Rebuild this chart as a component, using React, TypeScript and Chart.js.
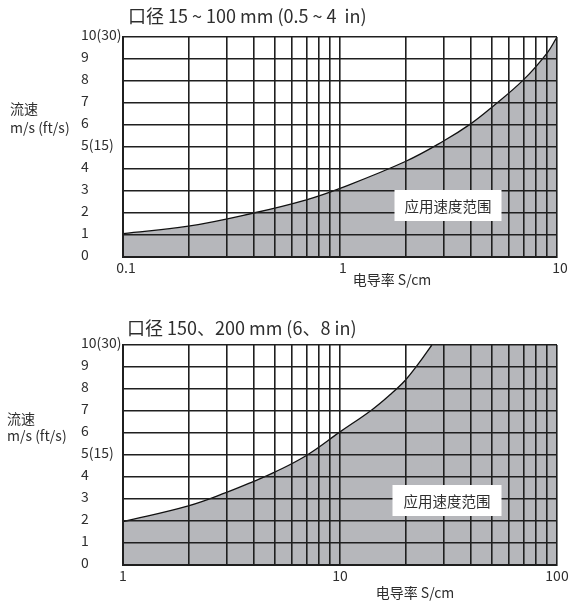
import React, { useEffect, useRef } from "react";
import { Chart, registerables } from "chart.js";

Chart.register(...registerables);

const FONT = '"Noto Sans CJK SC", "Noto Sans", sans-serif';
const TEXT_COLOR = "#2e2e2e";
const GRID_COLOR = "#1f1f1f";
const FILL_COLOR = "#b6b7bb";

// ---- data ----
const topTitle = "口径 15 ~ 100 mm (0.5 ~ 4  in)";
const bottomTitle = "口径 150、200 mm (6、8 in)";
const yAxisTitle = ["流速", "m/s (ft/s)"];
const xAxisTitle = "电导率 S/cm";
const rangeLabel = "应用速度范围";

const yTickLabels = ["0", "1", "2", "3", "4", "5(15)", "6", "7", "8", "9", "10(30)"];

// upper panel: limit curve
const topConductivity = [0.1, 0.2, 0.4, 0.7, 1, 2, 3, 4, 5, 7, 9, 10];
const topVelocity = [1.06, 1.4, 2.0, 2.6, 3.12, 4.34, 5.27, 6.05, 6.8, 8.05, 9.27, 10];
// upper panel: region beyond curve (none)
const topPlateauConductivity: number[] = [];
const topPlateauVelocity: number[] = [];

// lower panel: limit curve
const bottomConductivity = [1, 2, 3, 4, 5, 7, 10, 14, 17, 20, 23, 26.5];
const bottomVelocity = [1.97, 2.69, 3.3, 3.8, 4.22, 4.98, 6.05, 7.05, 7.74, 8.4, 9.15, 10];
// lower panel: region where the limit is the top of the scale
const bottomPlateauConductivity = [26, 100];
const bottomPlateauVelocity = [10, 10];

const topXGrid = [0.1, 0.2, 0.3, 0.4, 0.5, 0.6, 0.7, 0.8, 0.9, 1, 2, 3, 4, 5, 6, 7, 8, 9, 10];
const bottomXGrid = [1, 2, 3, 4, 5, 6, 7, 8, 9, 10, 20, 30, 40, 50, 60, 70, 80, 90, 100];
const topXLabels = [0.1, 1, 10];
const bottomXLabels = [1, 10, 100];

type Decor = {
  title: string;
  titleX: number;
  titleY: number;
  yTitleX: number;
  yTitleY: number[];
  xTitleX: number;
  xTitleY: number;
  boxX: number;
  boxY: number;
  boxW: number;
  boxH: number;
};

function makeDecorPlugin(d: Decor) {
  return {
    id: "decor",
    afterDraw(chart: any) {
      const ctx = chart.ctx as CanvasRenderingContext2D;
      ctx.save();
      ctx.textBaseline = "middle";
      ctx.fillStyle = TEXT_COLOR;
      ctx.textAlign = "left";
      ctx.font = `18px ${FONT}`;
      ctx.fillText(d.title, d.titleX, d.titleY);
      ctx.font = `14px ${FONT}`;
      yAxisTitle.forEach((line, i) => ctx.fillText(line, d.yTitleX, d.yTitleY[i]));
      ctx.textAlign = "center";
      ctx.fillText(xAxisTitle, d.xTitleX, d.xTitleY);
      ctx.fillStyle = "#ffffff";
      ctx.fillRect(d.boxX - d.boxW / 2, d.boxY - d.boxH / 2, d.boxW, d.boxH);
      ctx.fillStyle = TEXT_COLOR;
      ctx.font = `14.5px ${FONT}`;
      ctx.fillText(rangeLabel, d.boxX, d.boxY + 0.5);
      ctx.restore();
    },
  };
}

type PanelProps = {
  xs: number[];
  ys: number[];
  px: number[];
  py: number[];
  grid: number[];
  labels: number[];
  min: number;
  max: number;
  labelOffset: number;
  decor: Decor;
  height: number;
};

function Panel({ xs, ys, px, py, grid, labels, min, max, labelOffset, decor, height }: PanelProps) {
  const ref = useRef<HTMLCanvasElement | null>(null);
  useEffect(() => {
    if (!ref.current) return;
    const datasets: any[] = [
      {
        data: xs.map((x, i) => ({ x, y: ys[i] })),
        borderColor: "#111111",
        borderWidth: 1.3,
        backgroundColor: FILL_COLOR,
        fill: "origin",
        pointRadius: 0,
        tension: 0.4,
      },
    ];
    if (px.length) {
      datasets.push({
        data: px.map((x, i) => ({ x, y: py[i] })),
        borderWidth: 0,
        borderColor: "rgba(0,0,0,0)",
        backgroundColor: FILL_COLOR,
        fill: "origin",
        pointRadius: 0,
      });
    }
    const chart = new Chart(ref.current, {
      type: "line",
      data: { datasets },
      options: {
        responsive: false,
        animation: false,
        layout: { padding: { left: 81, right: 14, top: 37, bottom: height - 257 - 30 } },
        plugins: { legend: { display: false }, tooltip: { enabled: false }, title: { display: false } },
        scales: {
          x: {
            type: "logarithmic",
            min,
            max,
            afterBuildTicks: (scale: any) => {
              scale.ticks = grid.map((v) => ({ value: v }));
            },
            afterFit: (scale: any) => {
              scale.height = 30;
              scale.paddingLeft = 0;
              scale.paddingRight = 0;
            },
            grid: { color: GRID_COLOR, lineWidth: 1.6, drawTicks: false, z: 1 },
            border: { color: GRID_COLOR, width: 2, z: 1 },
            ticks: {
              autoSkip: false,
              maxRotation: 0,
              padding: 2,
              labelOffset,
              color: TEXT_COLOR,
              font: { family: FONT, size: 14 },
              callback: (value: any) => (labels.includes(Number(value)) ? String(value) : ""),
            },
          },
          y: {
            type: "linear",
            min: 0,
            max: 10,
            afterFit: (scale: any) => {
              scale.width = 42;
              scale.paddingTop = 0;
              scale.paddingBottom = 0;
            },
            grid: { color: GRID_COLOR, lineWidth: 1.6, drawTicks: false, z: 1 },
            border: { color: GRID_COLOR, width: 2, z: 1 },
            ticks: {
              stepSize: 1,
              crossAlign: "far",
              padding: 2,
              labelOffset: -2,
              color: TEXT_COLOR,
              font: { family: FONT, size: 14 },
              callback: (value: any) => yTickLabels[Math.round(Number(value))] ?? "",
            },
          },
        },
      },
      plugins: [makeDecorPlugin(decor)],
    } as any);
    return () => chart.destroy();
  }, []);
  return <canvas ref={ref} width={571} height={height} style={{ display: "block", width: 571, height }} />;
}

export default function App() {
  return (
    <div style={{ position: "absolute", left: 0, top: 0, width: 571, height: 604, background: "#fff", overflow: "hidden" }}>
      <div style={{ position: "absolute", left: 0, top: 0 }}>
        <Panel
          xs={topConductivity}
          ys={topVelocity}
          px={topPlateauConductivity}
          py={topPlateauVelocity}
          grid={topXGrid}
          labels={topXLabels}
          min={0.1}
          max={10}
          labelOffset={3}
          height={300}
          decor={{
            title: topTitle,
            titleX: 128,
            titleY: 16,
            yTitleX: 10,
            yTitleY: [109, 128],
            xTitleX: 392,
            xTitleY: 280,
            boxX: 448,
            boxY: 205.5,
            boxW: 107,
            boxH: 31,
          }}
        />
      </div>
      <div style={{ position: "absolute", left: 0, top: 308 }}>
        <Panel
          xs={bottomConductivity}
          ys={bottomVelocity}
          px={bottomPlateauConductivity}
          py={bottomPlateauVelocity}
          grid={bottomXGrid}
          labels={bottomXLabels}
          min={1}
          max={100}
          labelOffset={0}
          height={296}
          decor={{
            title: bottomTitle,
            titleX: 127,
            titleY: 20,
            yTitleX: 7,
            yTitleY: [111, 127.5],
            xTitleX: 415,
            xTitleY: 284.5,
            boxX: 447,
            boxY: 192.5,
            boxW: 109,
            boxH: 31,
          }}
        />
      </div>
    </div>
  );
}
